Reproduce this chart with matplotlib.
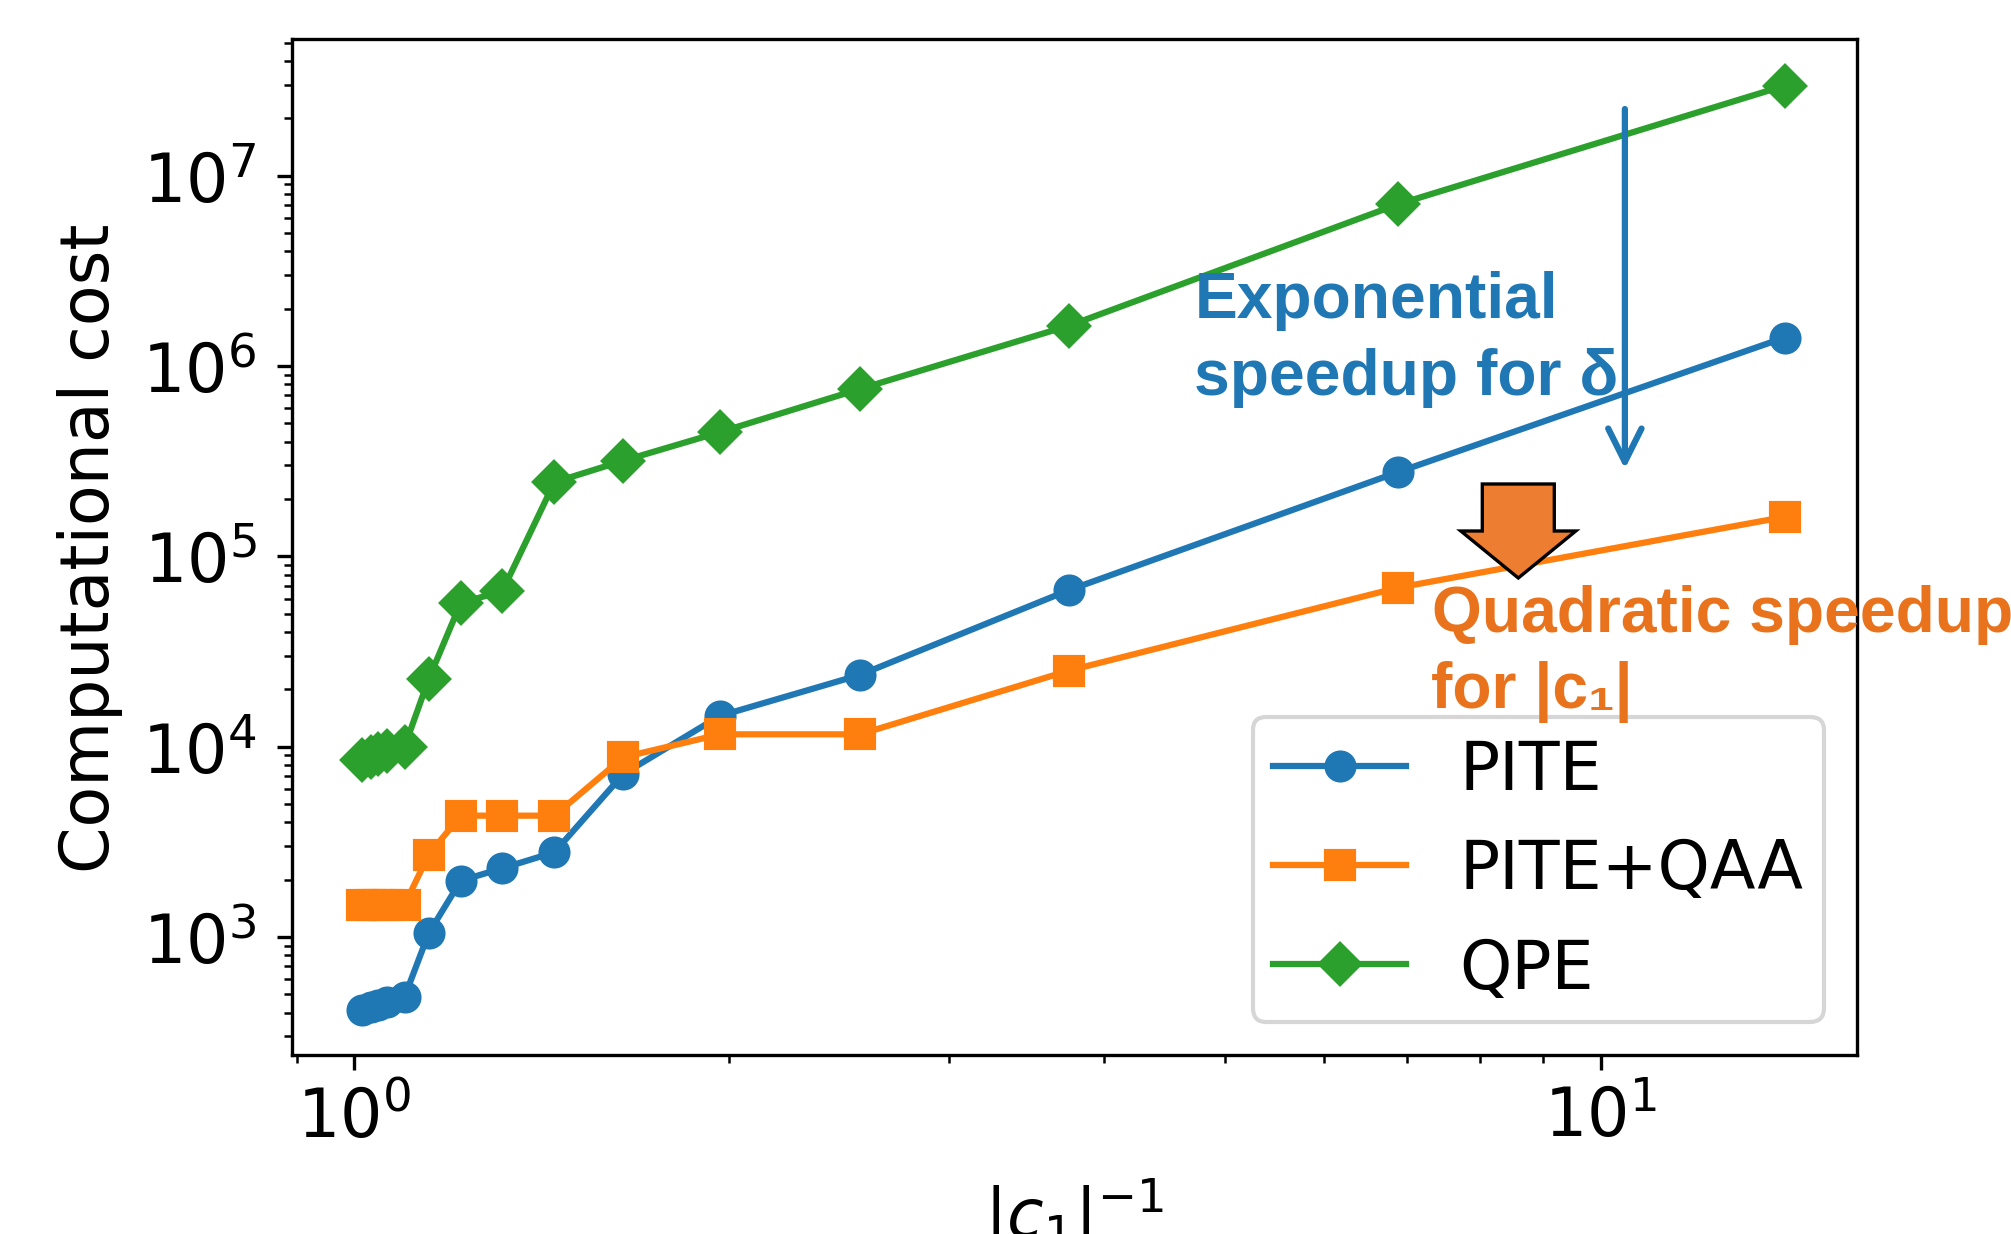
import matplotlib
matplotlib.use('Agg')
import matplotlib.pyplot as plt
from matplotlib.ticker import NullFormatter
from matplotlib.patches import FancyArrow

# ---- data ----
inv_c1 = [1.015, 1.032, 1.046, 1.063, 1.098, 1.148, 1.218, 1.315, 1.448,
          1.645, 1.966, 2.546, 3.748, 6.88, 14.05]
cost_pite = [414, 426, 439, 453, 485, 1045, 1973, 2293, 2784, 7180,
             14500, 23800, 66500, 277000, 1.41e6]
cost_pite_qaa = [1476, 1476, 1476, 1476, 1476, 2706, 4335, 4335, 4335, 8790,
                 11600, 11600, 25100, 68400, 161000]
cost_qpe = [8510, 8790, 9140, 9480, 10000, 22650, 56900, 65500, 245000, 318000,
            449000, 757000, 1.63e6, 7.08e6, 2.97e7]
labels = ['PITE', 'PITE+QAA', 'QPE']

plt.rcParams['font.size'] = 16

W, H, DPI = 2011, 1235, 300
fig = plt.figure(figsize=(W / DPI, H / DPI), dpi=DPI)
ax = fig.add_axes([292 / W, 1 - 1056 / H, 1565 / W, 1016 / H])

ms = 6.7
ax.plot(inv_c1, cost_pite, '-o', color='#1f77b4', ms=ms, lw=1.5, label=labels[0])
ax.plot(inv_c1, cost_pite_qaa, '-s', color='#ff7f0e', ms=ms, lw=1.5, label=labels[1])
ax.plot(inv_c1, cost_qpe, '-D', color='#2ca02c', ms=ms, lw=1.5, label=labels[2])

ax.set_xscale('log')
ax.set_yscale('log')
ax.set_xlim(0.8918, 16.06)
ax.set_ylim(239.5, 5.227e7)
ax.xaxis.set_minor_formatter(NullFormatter())
ax.yaxis.set_minor_formatter(NullFormatter())
ax.tick_params(axis='y', which='major', pad=5)

ax.set_xlabel(r'$|c_1|^{-1}$', labelpad=5.5)
ax.set_ylabel('Computational cost', labelpad=4.5)
ax.legend(loc='lower right', borderpad=0.3)

# ---- annotations ----
def px(x, y):
    return (x / DPI, (H - y) / DPI)

blue_c = '#1f77b4'
orange_c = '#e8731c'
fam = ['Liberation Sans', 'DejaVu Sans']
afs = 15.4

ax.annotate('', xy=(10.46, 2.88e5), xytext=(10.46, 2.24e7),
            arrowprops=dict(arrowstyle='->', color=blue_c, lw=1.5,
                            mutation_scale=20, shrinkA=0, shrinkB=0))

for s, (x, y) in [('Exponential', (1195, 318)), ('speedup for δ', (1194, 395))]:
    fig.text(*px(x, y), s, transform=fig.dpi_scale_trans, color=blue_c,
             fontsize=afs, fontweight='bold', family=fam, va='baseline', ha='left')

for s, (x, y) in [('Quadratic speedup', (1432, 632)), ('for |c₁|', (1431, 708))]:
    fig.text(*px(x, y), s, transform=fig.dpi_scale_trans, color=orange_c,
             fontsize=afs, fontweight='bold', family=fam, va='baseline', ha='left')

x0, y0 = px(1518.3, 485)
arrow = FancyArrow(x0, y0, 0, -94 / DPI, width=72 / DPI, head_width=115 / DPI,
                   head_length=47 / DPI, length_includes_head=True,
                   transform=fig.dpi_scale_trans, facecolor='#ed7d31',
                   edgecolor='black', linewidth=0.8, zorder=5)
fig.add_artist(arrow)

fig.savefig('out.png', dpi=DPI)
